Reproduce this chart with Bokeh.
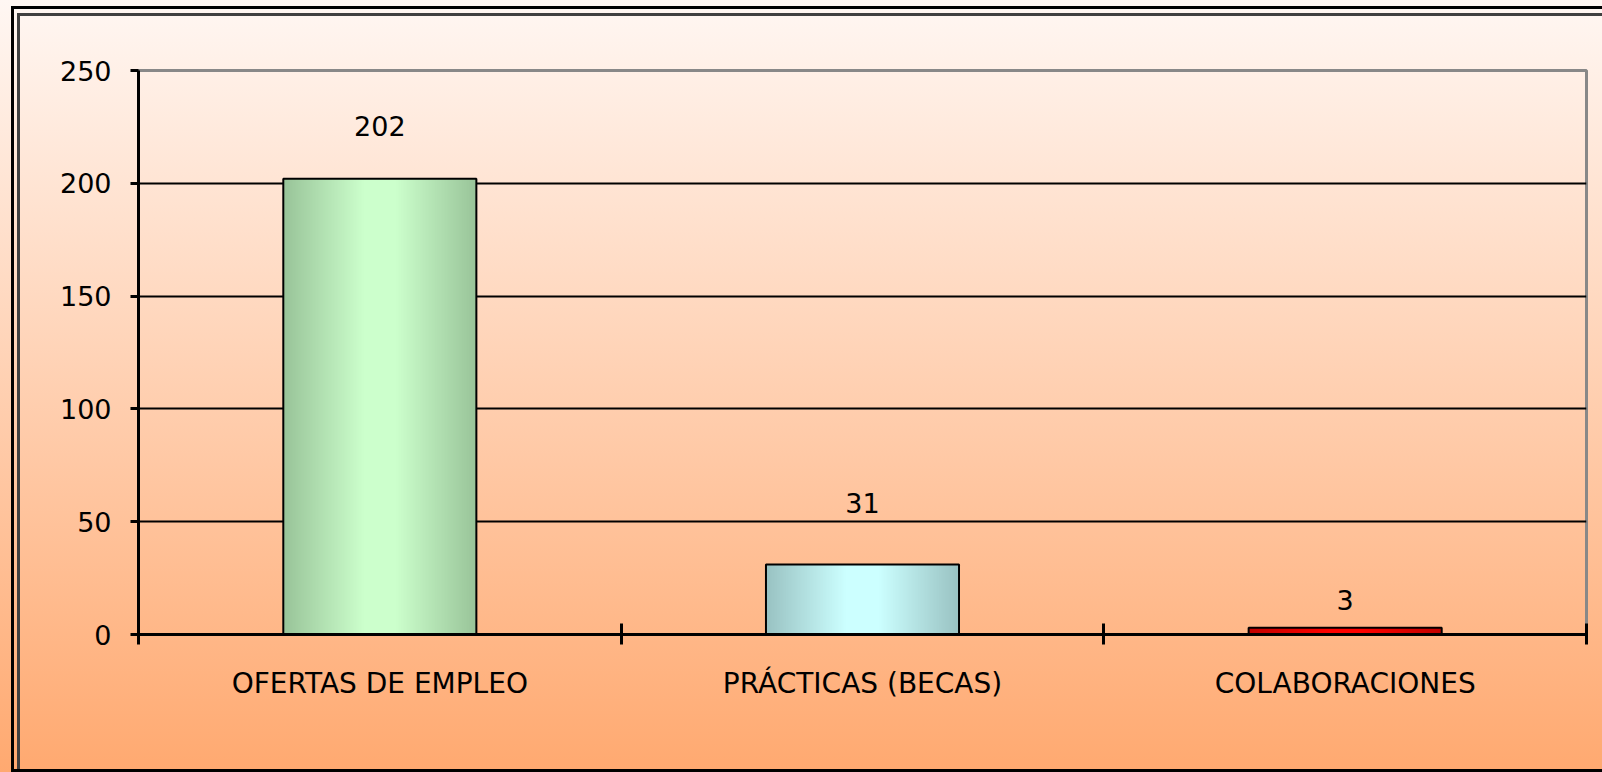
import numpy as np
from bokeh.plotting import figure
from bokeh.models import Range1d, FixedTicker, ColumnDataSource
from bokeh.embed import file_html
from bokeh.resources import INLINE
from bokeh.core.properties import value

try:
    from bokeh.models import GlobalInlineStyleSheet
except Exception:
    GlobalInlineStyleSheet = None

# ---------------- data ----------------
categories = ["OFERTAS DE EMPLEO", "PRÁCTICAS (BECAS)", "COLABORACIONES"]
counts = [202, 31, 3]
y_ticks = [0, 50, 100, 150, 200, 250]

# ---------------- style ----------------
edge_colors = [(0x99, 0xC4, 0x99), (0x99, 0xC2, 0xC2), (0xC0, 0x00, 0x00)]
center_colors = [(0xCC, 0xFF, 0xCC), (0xCC, 0xFF, 0xFF), (0xFF, 0x00, 0x00)]
label_offsets = [53, 62, 28]  # pixels above the bar top
BAR_W = 0.4
FONT = "DejaVu Sans"
FS = "27px"
FS_CAT = "28px"

n = len(categories)
centers = [i + 0.5 for i in range(n)]

# horizontal gradient images for the bars
N = 256
t = np.linspace(0, 1, N)
w = np.clip((1 - np.abs(2 * t - 1)) * 1.2, 0, 1)
imgs = []
for e, c in zip(edge_colors, center_colors):
    img = np.empty((1, N), dtype=np.uint32)
    v = img.view(dtype=np.uint8).reshape((1, N, 4))
    for k in range(3):
        v[0, :, k] = np.round(e[k] + (c[k] - e[k]) * w).astype(np.uint8)
    v[0, :, 3] = 255
    imgs.append(img)

img_src = ColumnDataSource(dict(
    image=imgs,
    x=[cx - BAR_W / 2 for cx in centers],
    y=[0] * n,
    dw=[BAR_W] * n,
    dh=counts,
))
bar_src = ColumnDataSource(dict(
    x=centers, top=counts, txt=[str(c) for c in counts],
    dy=[-o for o in label_offsets],
))

p = figure(width=1602, height=772,
           x_range=Range1d(0, n), y_range=Range1d(0, y_ticks[-1]),
           output_backend="svg", toolbar_location=None,
           min_border_left=138, min_border_right=16,
           min_border_top=70, min_border_bottom=138)

p.background_fill_color = None
p.border_fill_color = None
p.outline_line_color = "#888888"
p.outline_line_width = 3

# bars
p.image_rgba(image="image", x="x", y="y", dw="dw", dh="dh", source=img_src)
p.vbar(x="x", top="top", width=BAR_W, bottom=0, source=bar_src,
       fill_alpha=0, line_color="black", line_width=2)

# value labels
p.text(x="x", y="top", text="txt", y_offset="dy", source=bar_src,
       text_align="center", text_baseline="middle",
       text_font=value(FONT), text_font_size=FS, text_color="black")

# grid
p.xgrid.visible = False
p.ygrid.ticker = FixedTicker(ticks=y_ticks[1:-1])
p.ygrid.grid_line_color = "black"
p.ygrid.grid_line_width = 2

# y axis
yax = p.yaxis[0]
yax.ticker = FixedTicker(ticks=y_ticks)
yax.axis_line_color = "black"
yax.axis_line_width = 3
yax.major_tick_in = 0
yax.major_tick_out = 8
yax.major_tick_line_width = 3
yax.minor_tick_line_color = None
yax.major_label_standoff = 19
yax.major_label_text_font = FONT
yax.major_label_text_font_size = FS
yax.major_label_text_color = "black"

# x axis
xax = p.xaxis[0]
xax.ticker = FixedTicker(ticks=centers, minor_ticks=[float(i) for i in range(n + 1)])
xax.major_label_overrides = {cx: cat for cx, cat in zip(centers, categories)}
xax.axis_line_color = "black"
xax.axis_line_width = 3
xax.major_tick_in = 0
xax.major_tick_out = 0
xax.minor_tick_in = 11
xax.minor_tick_out = 10
xax.minor_tick_line_width = 3
xax.minor_tick_line_color = "black"
xax.major_label_standoff = 22
xax.major_label_text_font = FONT
xax.major_label_text_font_size = FS_CAT
xax.major_label_text_color = "black"

# page gradient and double frame lines
frame_bg = ("linear-gradient(#000,#000) 11px 6px/3px 100% no-repeat, "
            "linear-gradient(#000,#000) 11px 6px/100% 3px no-repeat, "
            "linear-gradient(#000,#000) 11px 100%/100% 3px no-repeat, "
            "linear-gradient(#404040,#404040) 17px 13px/3px 100% no-repeat, "
            "linear-gradient(#404040,#404040) 17px 13px/100% 3px no-repeat")
p.styles = {"background": frame_bg}
if GlobalInlineStyleSheet is not None:
    p.stylesheets = [GlobalInlineStyleSheet(css=(
        "html{min-height:100%;background:linear-gradient(to bottom,#FFF7F3 0%,#FFA970 100%) fixed;}"
        "body{background:transparent;}"))]

open("out.html", "w").write(file_html(p, INLINE))
